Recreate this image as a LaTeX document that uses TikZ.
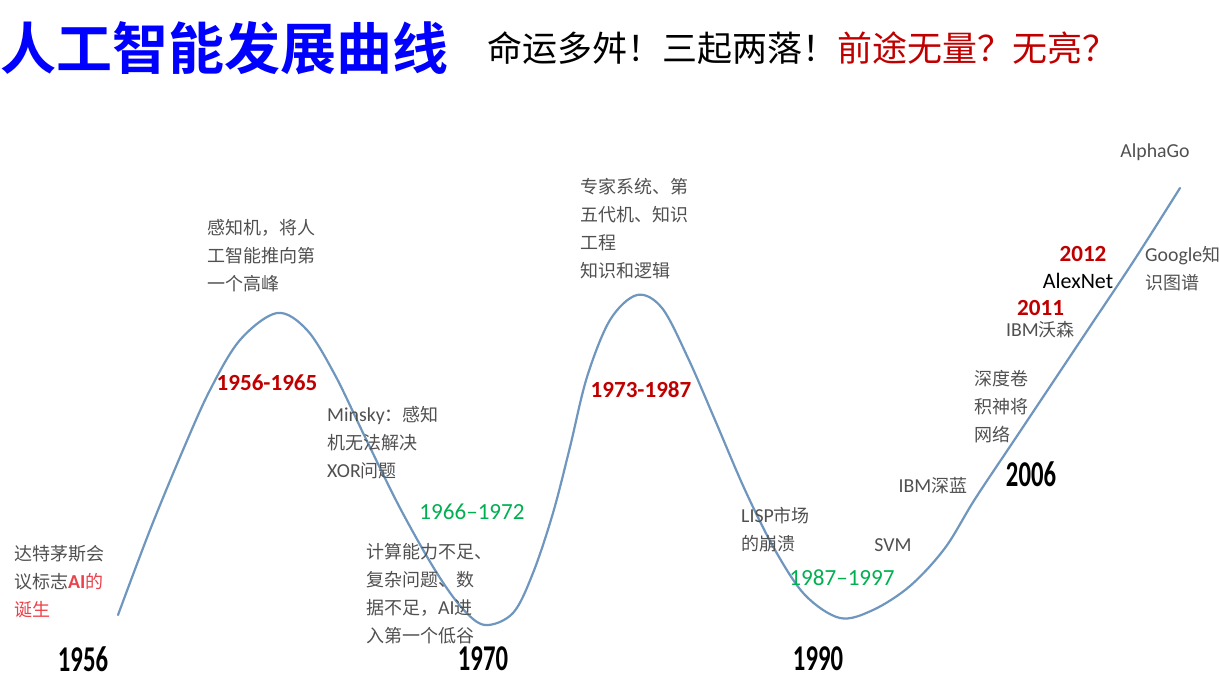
\documentclass[tikz,border=0pt]{standalone}
\usepackage{fontspec}
\usepackage{graphicx}
\setmainfont{Noto Sans CJK SC}[BoldFont={Noto Sans CJK SC Bold}]
\newfontfamily\lat{Carlito}[Scale=1.1]
\usetikzlibrary{positioning}
\definecolor{curveblue}{RGB}{110,150,190}
\definecolor{labelgray}{RGB}{80,80,80}
\definecolor{yearred}{RGB}{192,0,0}
\definecolor{periodgreen}{RGB}{0,176,80}
\definecolor{birthred}{RGB}{235,65,75}
\definecolor{titleblue}{RGB}{0,0,255}
\newcommand{\yearmark}[1]{\scalebox{0.68}[1]{\lat\bfseries\fontsize{33}{33}\selectfont #1}}

\begin{document}
\begin{tikzpicture}[
    x=1pt, y=-1pt,
    note/.style={anchor=west, align=left, inner sep=0pt, text=labelgray, font=\fontsize{18}{28}\selectfont},
    period/.style={inner sep=0pt, text=yearred, font=\lat\bfseries\fontsize{21}{21}\selectfont},
    stage/.style={inner sep=0pt, text=periodgreen, font=\lat\fontsize{21}{21}\selectfont},
    yearbox/.style={inner sep=0pt, text=black},
    curve/.style={draw=curveblue, line width=2.2pt, line cap=round}
]
    \useasboundingbox (0,0) rectangle (1219,678);

    % title
    \node[anchor=west, inner sep=0pt, text=titleblue, font=\bfseries\fontsize{56}{56}\selectfont] (title) at (0,48) {人工智能发展曲线};
    \node[right=39pt of title, inner sep=0pt, font=\fontsize{35}{35}\selectfont] (motto) {命运多舛！三起两落！\textcolor{yearred}{前途无量？无亮？}};

    % development curve
    \draw[curve] plot[smooth, tension=0.55] coordinates {
        (118,615) (150,530) (183,450) (210,390) (240,340) (277,313) (307,330)
        (335,375) (365,437) (400,508) (435,570) (462,608) (485,625) (513,613)
        (533,573) (553,513) (570,447) (587,377) (610,320) (637,295) (662,308)
        (688,358) (715,420) (745,490) (775,550) (805,595) (840,618) (873,610)
        (910,586) (945,548) (975,499) (1017,436) (1083,337) (1133,262) (1180,188)};

    % years on the axis
    \node[yearbox] (y1956) at (83,659) {\yearmark{1956}};
    \node[yearbox] (y1970) at (483,659) {\yearmark{1970}};
    \node[yearbox] (y1990) at (818,659) {\yearmark{1990}};
    \node[yearbox] (y2006) at (1031,474) {\yearmark{2006}};

    % periods
    \node[period] (p1) at (267,383) {1956-1965};
    \node[stage]  (p2) at (472,512) {1966–1972};
    \node[period] (p3) at (641,390) {1973-1987};
    \node[stage]  (p4) at (842,578) {1987–1997};

    % events
    \node[note] (birth) at (14,582) {达特茅斯会\\议标志\textcolor{birthred}{{\lat\bfseries AI}的}\\\textcolor{birthred}{诞生}};
    \node[note] (perceptron) at (207,256) {感知机，将人\\工智能推向第\\一个高峰};
    \node[note] (minsky) at (327,443) {{\lat Minsky}：感知\\机无法解决\\{\lat XOR}问题};
    \node[note] (winter) at (366,594) {计算能力不足、\\复杂问题、数\\据不足，{\lat AI}进\\入第一个低谷};
    \node[note] (expert) at (580,229) {专家系统、第\\五代机、知识\\工程\\知识和逻辑};
    \node[note] (lisp) at (741,530) {{\lat LISP}市场\\的崩溃};
    \node[note, anchor=center, font=\lat\fontsize{18}{18}\selectfont] (svm) at (893,545) {SVM};
    \node[note, anchor=center] (deepblue) at (933,486) {{\lat IBM}深蓝};
    \node[note] (cnn) at (974,407) {深度卷\\积神将\\网络};
    \node[note] (watson) at (1006,330) {{\lat IBM}沃森};
    \node[period, above=6pt of watson] (y2011) {2011};
    \node[period] (y2012) at (1083,254) {2012};
    \node[note, anchor=north, text=black, font=\lat\fontsize{20}{20}\selectfont, below=11pt of y2012, xshift=-5pt] (alexnet) {AlexNet};
    \node[note] (google) at (1145,269) {{\lat Google}知\\识图谱};
    \node[note, anchor=center, font=\lat\fontsize{18}{18}\selectfont] (alphago) at (1155,152) {AlphaGo};
\end{tikzpicture}
\end{document}
